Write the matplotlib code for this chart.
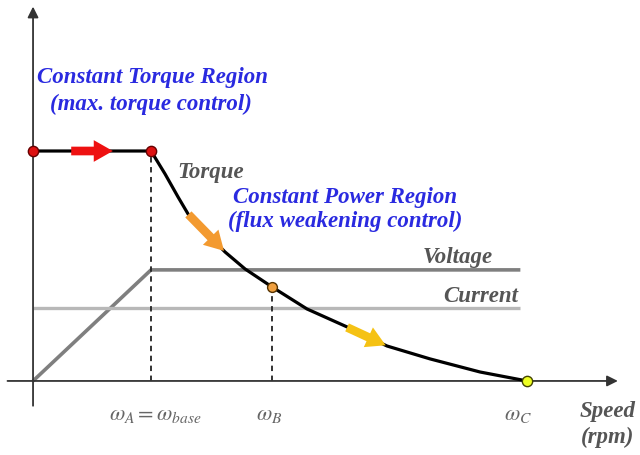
import matplotlib
matplotlib.use("Agg")
import matplotlib.pyplot as plt
from matplotlib.patches import FancyArrowPatch

# normalised speed (w_base = 1) and torque (T_max = 1)
speed = [0.0, 1.0, 1.119, 1.229, 1.314, 1.627, 1.797, 2.025, 2.322, 2.661,
         3.0, 3.364, 3.788, 4.186]
torque = [1.0, 1.0, 0.90, 0.80, 0.726, 0.561, 0.487, 0.409, 0.313, 0.235,
          0.152, 0.096, 0.039, 0.0]
voltage_x = [0.0, 1.0, 4.13]
voltage_y = [0.0, 0.483, 0.483]
current_x = [0.0, 4.13]
current_y = [0.317, 0.317]
w_a, w_b, w_c = 1.0, 2.025, 4.186
t_b = 0.409

blue = "#2a2ae0"
grey = "#555555"
serif = "Liberation Serif"

plt.rcParams["mathtext.fontset"] = "stix"

fig = plt.figure(figsize=(6.4, 4.56), dpi=100)
ax = fig.add_axes([0, 0, 1, 1])
ax.set_xlim(-0.28, 5.144)
ax.set_ylim(-0.322, 1.661)
ax.axis("off")

# axes with arrow heads
ax.annotate("", xy=(4.98, 0), xytext=(-0.24, 0),
            arrowprops=dict(arrowstyle="-|>", color="#333333", lw=1.3,
                            mutation_scale=16))
ax.annotate("", xy=(0, 1.64), xytext=(0, -0.12),
            arrowprops=dict(arrowstyle="-|>", color="#333333", lw=1.3,
                            mutation_scale=16))

# voltage / current limits
ax.plot(voltage_x, voltage_y, color="#7f7f7f", lw=2.6, solid_capstyle="butt")
ax.plot(current_x, current_y, color="#b8b8b8", lw=2.4, solid_capstyle="butt")

# dashed guides
ax.plot([w_a, w_a], [0, 1.0], color="#222222", lw=1.3, ls=(0, (3, 2.5)))
ax.plot([w_b, w_b], [0, t_b], color="#222222", lw=1.3, ls=(0, (3, 2.5)))

# torque curve
ax.plot(speed, torque, color="black", lw=2.3, solid_joinstyle="round", zorder=3)

# direction arrows
def add_arrow(p0, p1, color):
    a = FancyArrowPatch(p0, p1, arrowstyle="simple,head_width=1.25,head_length=1.1,tail_width=0.5",
                        mutation_scale=12.5, color=color, lw=0, zorder=4)
    ax.add_patch(a)

add_arrow((0.30, 1.0), (0.70, 1.0), "#ee1111")
add_arrow((1.30, 0.733), (1.635, 0.557), "#f39a30")
add_arrow((2.64, 0.238), (3.01, 0.150), "#f5c214")

# markers
ax.scatter([0, w_a], [1.0, 1.0], s=55, color="#dd1111", edgecolor="#660000", lw=1, zorder=5)
ax.scatter([w_b], [t_b], s=50, color="#f0a040", edgecolor="#553300", lw=1, zorder=5)
ax.scatter([w_c], [0], s=55, color="#eeff22", edgecolor="#444400", lw=1, zorder=5)

# annotations
kw = dict(family=serif, style="italic", weight="bold", fontsize=16.5)
ax.text(0.03, 1.322, "Constant Torque Region", color=blue, ha="left", va="center", **kw)
ax.text(0.14, 1.209, "(max. torque control)", color=blue, ha="left", va="center", **kw)
ax.text(1.22, 0.913, "Torque", color=grey, ha="left", va="center", **kw)
ax.text(1.695, 0.80, "Constant Power Region", color=blue, ha="left", va="center", **kw)
ax.text(1.653, 0.696, "(flux weakening control)", color=blue, ha="left", va="center", **kw)
ax.text(3.90, 0.543, "Voltage", color=grey, ha="right", va="center", **kw)
ax.text(4.11, 0.37, "Current", color=grey, ha="right", va="center", **kw)
ax.text(4.87, -0.13, "Speed", color=grey, ha="center", va="center", **kw)
ax.text(4.87, -0.239, "(rpm)", color=grey, ha="center", va="center", **kw)

mk = dict(color="#666666", fontsize=16, ha="center", va="center")
ax.text(1.04, -0.145, r"$\omega_A=\omega_{base}$", **mk)
ax.text(2.0, -0.145, r"$\omega_B$", **mk)
ax.text(4.11, -0.145, r"$\omega_C$", **mk)

fig.savefig("out.png", dpi=100)
